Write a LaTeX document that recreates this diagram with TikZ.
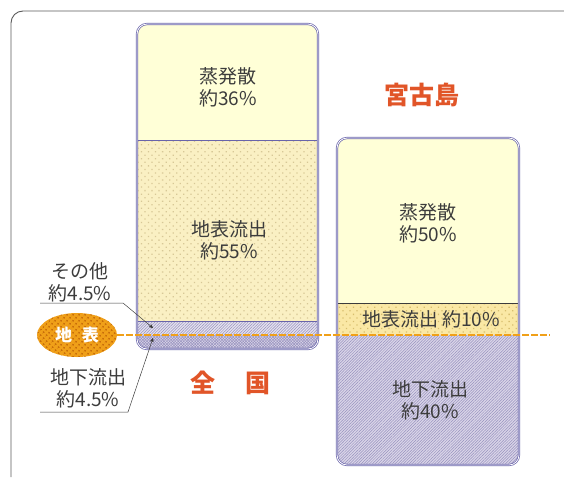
\documentclass[tikz,border=0pt]{standalone}
\usepackage{fontspec}
\setmainfont{Noto Sans CJK JP}
\usetikzlibrary{positioning, arrows, patterns.meta, shapes.geometric}
\definecolor{framegray}{RGB}{90,90,90}
\definecolor{boxblue}{RGB}{105,100,170}
\definecolor{textgray}{RGB}{60,60,60}
\definecolor{titleorange}{RGB}{225,85,40}
\definecolor{evapfill}{RGB}{255,255,215}
\definecolor{surffill}{RGB}{250,240,195}
\definecolor{surfdot}{RGB}{215,200,150}
\definecolor{bandfill}{RGB}{250,232,165}
\definecolor{banddot}{RGB}{215,190,110}
\definecolor{groundfill}{RGB}{218,213,232}
\definecolor{groundline}{RGB}{150,145,190}
\definecolor{groundorange}{RGB}{240,160,25}
\definecolor{orangedot}{RGB}{200,110,10}
\tikzset{
	>=stealth', % arrow heads
	box/.style={draw=boxblue, double=white, double distance=0.8pt, line width=0.7pt, rounded corners=10pt}, % the two columns
	lbl/.style={text=textgray, align=center, font=\fontsize{19}{22}\selectfont}, % texts in the columns
	title/.style={text=titleorange, font=\bfseries\fontsize{25}{28}\selectfont}, % area names
	pointer/.style={->, draw=textgray, line width=0.5pt}, % label lines
}
\begin{document}
\begin{tikzpicture}[x=1pt, y=-1pt]
\useasboundingbox (0,0) rectangle (564,477);
% frame
\draw[framegray, line width=0.9pt, rounded corners=12pt] (11,477) -- (11,11) -- (564,11);

% column: whole country
\begin{scope}
	\clip[rounded corners=10pt] (137,24) rectangle (318,349);
	\fill[evapfill] (137,24) rectangle (318,140);
	\fill[surffill] (137,140) rectangle (318,321);
	\fill[pattern={Dots[distance=5pt, radius=0.9pt, angle=45]}, pattern color=surfdot] (137,140) rectangle (318,321);
	\fill[groundfill!70!white] (137,321) rectangle (318,335);
	\fill[groundfill] (137,335) rectangle (318,349);
	\fill[pattern={Lines[distance=2pt, angle=45, line width=0.5pt]}, pattern color=groundline] (137,321) rectangle (318,349);
	\fill[pattern={Lines[distance=2pt, angle=-45, line width=0.5pt]}, pattern color=groundline] (137,335) rectangle (318,349);
\end{scope}
\draw[boxblue, line width=0.5pt] (137,140) -- (318,140);
\draw[boxblue, line width=0.5pt] (137,321) -- (318,321);
\draw[box] (137,24) rectangle (318,349);

% column: Miyako island
\begin{scope}
	\clip[rounded corners=10pt] (337,138) rectangle (519,465);
	\fill[evapfill] (337,138) rectangle (519,303);
	\fill[bandfill] (337,303) rectangle (519,335);
	\fill[pattern={Dots[distance=5pt, radius=0.9pt, angle=45]}, pattern color=banddot] (337,303) rectangle (519,335);
	\fill[groundfill] (337,335) rectangle (519,465);
	\fill[pattern={Lines[distance=2pt, angle=45, line width=0.5pt]}, pattern color=groundline] (337,335) rectangle (519,465);
\end{scope}
\draw[textgray, line width=0.5pt] (337,303) -- (519,303);
\draw[box] (337,138) rectangle (519,465);

% ground surface
\node[ellipse, preaction={fill=groundorange}, minimum width=80pt, minimum height=44pt, inner sep=0pt,
	pattern={Dots[distance=4pt, radius=1.2pt, angle=45]}, pattern color=orangedot] (gs) at (77,335) {};
\node[text=white, font=\bfseries\fontsize{17}{20}\selectfont] (gstext) at (gs) {地\hspace{10pt}表};
\coordinate (gend) at (550,335);
\draw[groundorange, line width=2pt, dash pattern=on 7pt off 2pt] (gs.east) -- (gend);

% texts
\node[lbl] (ev1) at (228,87) {蒸発散\\約36\%};
\node[lbl] (su1) at (229,240) {地表流出\\約55\%};
\node[lbl] (ev2) at (428,223) {蒸発散\\約50\%};
\node[lbl] (su2) at (431,319) {地表流出 約10\%};
\node[lbl] (gw2) at (430,400) {地下流出\\約40\%};
\node[title] (miyako) at (422,95) {宮古島};
\node[title] (zenkoku) at (230,383) {全\hspace{30pt}国};

% left labels
\node[lbl] (oth) at (80,282) {その他\\約4.5\%};
\node[lbl] (gw1) at (88,388) {地下流出\\約4.5\%};
\coordinate (o1) at (40,303);
\coordinate (o2) at (123,303);
\coordinate (otip) at (153,328);
\coordinate (g1) at (40,412);
\coordinate (g2) at (128,412);
\coordinate (gtip) at (153,338);
\draw[pointer] (o1) -- (o2) -- (otip);
\draw[pointer] (g1) -- (g2) -- (gtip);
\end{tikzpicture}
\end{document}
